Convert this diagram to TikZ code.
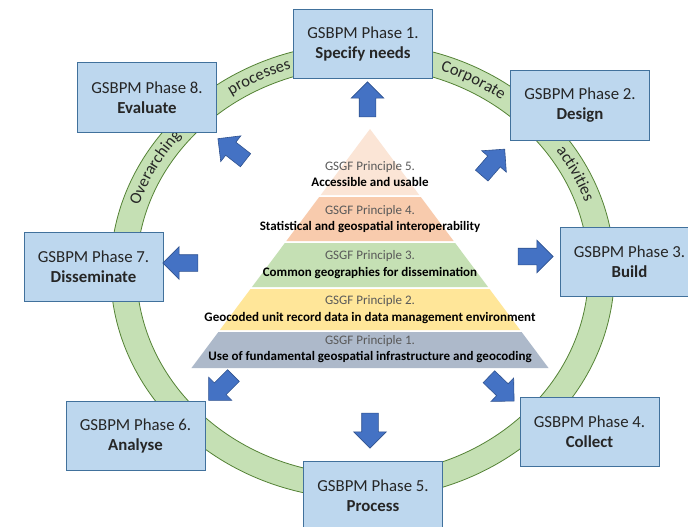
\documentclass[tikz,border=0pt]{standalone}
\usepackage{fontspec}
\setmainfont{Carlito}
\usetikzlibrary{shapes.arrows, decorations.text, calc}
\definecolor{boxfill}{HTML}{BDD7EE}
\definecolor{boxline}{HTML}{41719C}
\definecolor{ringfill}{HTML}{C5E0B4}
\definecolor{ringline}{HTML}{548235}
\definecolor{arrowfill}{HTML}{4472C4}
\definecolor{arrowline}{HTML}{2F528F}
\definecolor{lay1}{HTML}{ADB9CA}
\definecolor{lay2}{HTML}{FFE699}
\definecolor{lay3}{HTML}{C5E0B4}
\definecolor{lay4}{HTML}{F8CBAD}
\definecolor{lay5}{HTML}{FBE5D6}
\definecolor{textgray}{HTML}{595959}
\definecolor{textdark}{HTML}{262626}
\tikzset{phase/.style = {draw = boxline, fill = boxfill, line width = 1pt, minimum width = 139, minimum height = 69, align = center, inner sep = 0, text = textdark, font = \fontsize{16.8}{20}\selectfont}}
\tikzset{blockarrow/.style = {single arrow, draw = arrowline, fill = arrowfill, line width = 0.6pt, minimum height = 35, single arrow head extend = 8, inner xsep = 0, inner ysep = 8}}
\tikzset{ringtext/.style = {decorate, decoration = {text along path, text align = center, text color = textdark, text = {|\fontsize{16.5}{19}\selectfont|#1}}}}
\tikzset{principle/.style = {align = center, inner sep = 0, font = \fontsize{13}{16.5}\selectfont}}

\begin{document}
\begin{tikzpicture}[x = 1pt, y = -1pt]
\fill [white] (0,0) rectangle (688,527);
\useasboundingbox (0,0) rectangle (688,527);
\coordinate (c) at (362.5,271);
\filldraw [fill = ringfill, draw = ringline, line width = 0.8pt, even odd rule] (c) ellipse [x radius = 252, y radius = 228] (c) ellipse [x radius = 226, y radius = 204];
\path [ringtext = Overarching] ($(c)+(-175:235 and 212)$) arc [start angle = -175, end angle = -128, x radius = 235, y radius = 212];
\path [ringtext = processes] ($(c)+(-135:235 and 212)$) arc [start angle = -135, end angle = -97, x radius = 235, y radius = 212];
\path [ringtext = Corporate] ($(c)+(-80:235 and 212)$) arc [start angle = -80, end angle = -44, x radius = 235, y radius = 212];
\path [ringtext = activities] ($(c)+(-45:235 and 212)$) arc [start angle = -45, end angle = -8, x radius = 235, y radius = 212];
\foreach \t/\b/\c in {129/195/lay5, 197/241/lay4, 243/287/lay3, 289/330/lay2, 332/368/lay1}
  \fill [\c] ({370-0.7469*(\t-129)},\t) -- ({370+0.7469*(\t-129)},\t) -- ({370+0.7469*(\b-129)},\b) -- ({370-0.7469*(\b-129)},\b) -- cycle;
\node [principle] (g5) at (370,174.2) {\textcolor{textgray}{GSGF Principle 5.}\\\textbf{Accessible and usable}};
\node [principle] (g4) at (370,219) {\textcolor{textgray}{GSGF Principle 4.}\\\textbf{Statistical and geospatial interoperability}};
\node [principle] (g3) at (370,264.5) {\textcolor{textgray}{GSGF Principle 3.}\\\textbf{Common geographies for dissemination}};
\node [principle] (g2) at (370,309.8) {\textcolor{textgray}{GSGF Principle 2.}\\\textbf{Geocoded unit record data in data management environment}};
\node [principle] (g1) at (370,349.2) {\textcolor{textgray}{GSGF Principle 1.}\\\textbf{Use of fundamental geospatial infrastructure and geocoding}};
\node [phase] (p1) at (363,44) {GSBPM Phase 1.\\\textbf{Specify needs}};
\node [phase] (p2) at (580,105.5) {GSBPM Phase 2.\\\textbf{Design}};
\node [phase] (p3) at (629.5,262) {GSBPM Phase 3.\\\textbf{Build}};
\node [phase] (p4) at (589.5,432) {GSBPM Phase 4.\\\textbf{Collect}};
\node [phase] (p5) at (373,495.5) {GSBPM Phase 5.\\\textbf{Process}};
\node [phase] (p6) at (135.5,436) {GSBPM Phase 6.\\\textbf{Analyse}};
\node [phase] (p7) at (93.5,267) {GSBPM Phase 7.\\\textbf{Disseminate}};
\node [phase] (p8) at (147,97.5) {GSBPM Phase 8.\\\textbf{Evaluate}};
\node [blockarrow, rotate = 90] (a1) at (367.5,103.5) {};
\node [blockarrow, rotate = 49] (a2) at (490.5,165.5) {};
\node [blockarrow, rotate = 0] (a3) at (531.5,256.5) {};
\node [blockarrow, rotate = -44] (a4) at (498.5,386) {};
\node [blockarrow, rotate = -90] (a5) at (370,426.5) {};
\node [blockarrow, rotate = -135] (a6) at (224,385) {};
\node [blockarrow, rotate = 180] (a7) at (184.5,263) {};
\node [blockarrow, rotate = 142] (a8) at (235,152) {};
\end{tikzpicture}
\end{document}
